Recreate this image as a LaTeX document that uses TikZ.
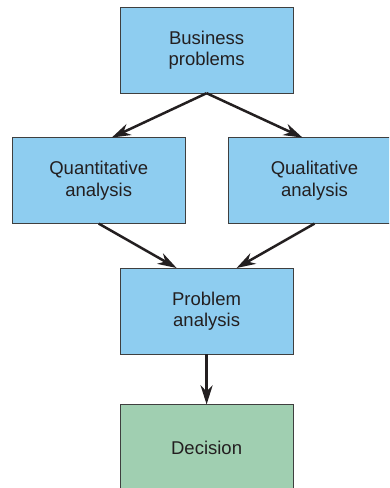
\documentclass[tikz,border=0pt]{standalone}
\usepackage{fontspec}
\setmainfont{Liberation Sans}
\usetikzlibrary{matrix,arrows.meta}
\definecolor{boxblue}{HTML}{8ECDF0}
\definecolor{boxgreen}{HTML}{A0CFB1}
\definecolor{boxline}{HTML}{3F3F3F}
\definecolor{inktext}{HTML}{231F20}
\newcommand{\boxfont}{\fontsize{18.5}{21.5}\selectfont}

\begin{document}
\begin{tikzpicture}[x=1pt,y=1pt,>={Stealth[length=19pt,width=12pt,inset=6pt]}]
            \useasboundingbox (0,0) rectangle (389,-488);
            \clip (0,0) rectangle (389,-488);

            \matrix (m) [matrix of nodes,anchor=north west,inner sep=0pt,outer sep=0pt,
                        column sep=-65.5pt,row sep=44pt,
                        nodes={draw=boxline,fill=boxblue,minimum width=173pt,minimum height=86pt,
                               text width=118pt,align=center,font=\boxfont,text=inktext}
                        ] at (12,-7)
            {
                      & Business problems         &                      \\
 Quantitative analysis &                           & Qualitative analysis \\
                      & Problem analysis          &                      \\[6pt]
                      & |[fill=boxgreen]|Decision &                      \\
             };

            \draw[->,line width=2.5pt,inktext] (m-1-2.south) -- ([xshift=13pt]m-2-1.north);
            \draw[->,line width=2.5pt,inktext] (m-1-2.south) -- ([xshift=-12pt]m-2-3.north);
            \draw[->,line width=2.5pt,inktext] (m-2-1.south) -- ([xshift=-30pt]m-3-2.north);
            \draw[->,line width=2.5pt,inktext] (m-2-3.south) -- ([xshift=30pt]m-3-2.north);
            \draw[->,line width=2.5pt,inktext] (m-3-2.south) -- (m-4-2.north);
    \end{tikzpicture}
\end{document}
